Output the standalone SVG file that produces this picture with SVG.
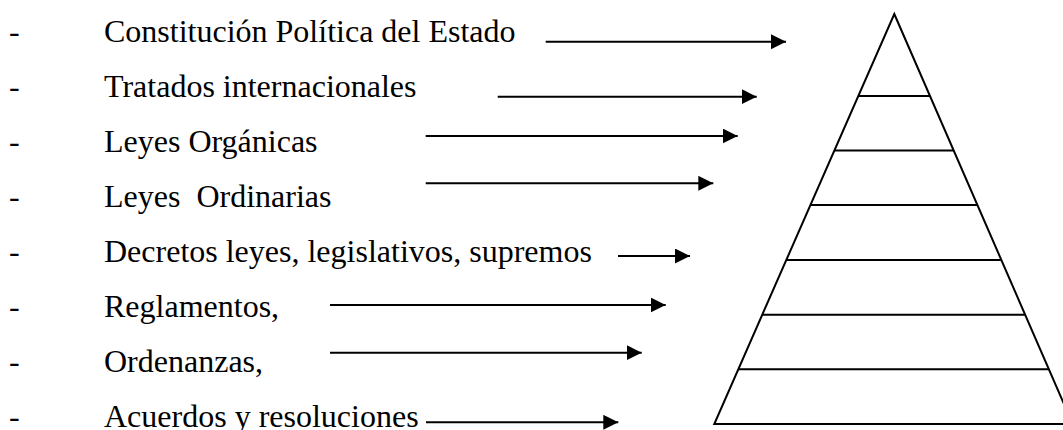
<svg xmlns="http://www.w3.org/2000/svg" width="1063" height="430" viewBox="0 0 1063 430">
<style>
.t{font-family:"Liberation Serif","Times New Roman",serif;font-size:32px;fill:#000}
.c{stroke:#000;stroke-width:2;fill:none}
.p{stroke:#000;stroke-width:2;fill:none;stroke-linejoin:miter}
</style>
<defs>
<marker id="ah" markerUnits="userSpaceOnUse" markerWidth="16" markerHeight="16" refX="15" refY="7.5" orient="auto">
<path d="M0,0 L15,7.5 L0,15 Z" fill="#000"/>
</marker>
</defs>
<rect width="1063" height="430" fill="#fff"/>
<g id="item1"><text class="t" x="9" y="41.7">-</text><text class="t" x="104" y="41.7">Constitución Política del Estado</text></g>
<g id="item2"><text class="t" x="9" y="96.7">-</text><text class="t" x="104" y="96.7">Tratados internacionales</text></g>
<g id="item3"><text class="t" x="9" y="151.7">-</text><text class="t" x="104" y="151.7">Leyes Orgánicas</text></g>
<g id="item4"><text class="t" x="9" y="206.7">-</text><text class="t" x="104" y="206.7" xml:space="preserve">Leyes  Ordinarias</text></g>
<g id="item5"><text class="t" x="9" y="261.7">-</text><text class="t" x="104" y="261.7">Decretos leyes, legislativos, supremos</text></g>
<g id="item6"><text class="t" x="9" y="316.7">-</text><text class="t" x="104" y="316.7">Reglamentos,</text></g>
<g id="item7"><text class="t" x="9" y="371.7">-</text><text class="t" x="104" y="371.7">Ordenanzas,</text></g>
<g id="item8"><text class="t" x="9" y="426.7">-</text><text class="t" x="104" y="426.7">Acuerdos y resoluciones</text></g>
<g id="pyramid">
<polygon class="p" points="894.3,14 1072.7,424 714.3,424"/>
<line class="c" x1="858.3" y1="96" x2="930" y2="96"/>
<line class="c" x1="834.4" y1="150.5" x2="953.7" y2="150.5"/>
<line class="c" x1="810.4" y1="205" x2="977.4" y2="205"/>
<line class="c" x1="786.3" y1="260" x2="1001.3" y2="260"/>
<line class="c" x1="762.3" y1="314.7" x2="1025.1" y2="314.7"/>
<line class="c" x1="738.3" y1="369.3" x2="1048.9" y2="369.3"/>
</g>
<g id="connectors">
<line class="c" x1="545.7" y1="41.7" x2="786" y2="41.7" marker-end="url(#ah)"/>
<line class="c" x1="497.7" y1="96.7" x2="756.7" y2="96.7" marker-end="url(#ah)"/>
<line class="c" x1="425.7" y1="136" x2="737.7" y2="136" marker-end="url(#ah)"/>
<line class="c" x1="425.7" y1="183.3" x2="713.3" y2="183.3" marker-end="url(#ah)"/>
<line class="c" x1="618" y1="256" x2="690" y2="256" marker-end="url(#ah)"/>
<line class="c" x1="330" y1="305" x2="665.7" y2="305" marker-end="url(#ah)"/>
<line class="c" x1="330" y1="352.7" x2="641.7" y2="352.7" marker-end="url(#ah)"/>
<line class="c" x1="426" y1="422.3" x2="618.3" y2="422.3" marker-end="url(#ah)"/>
</g>
</svg>
